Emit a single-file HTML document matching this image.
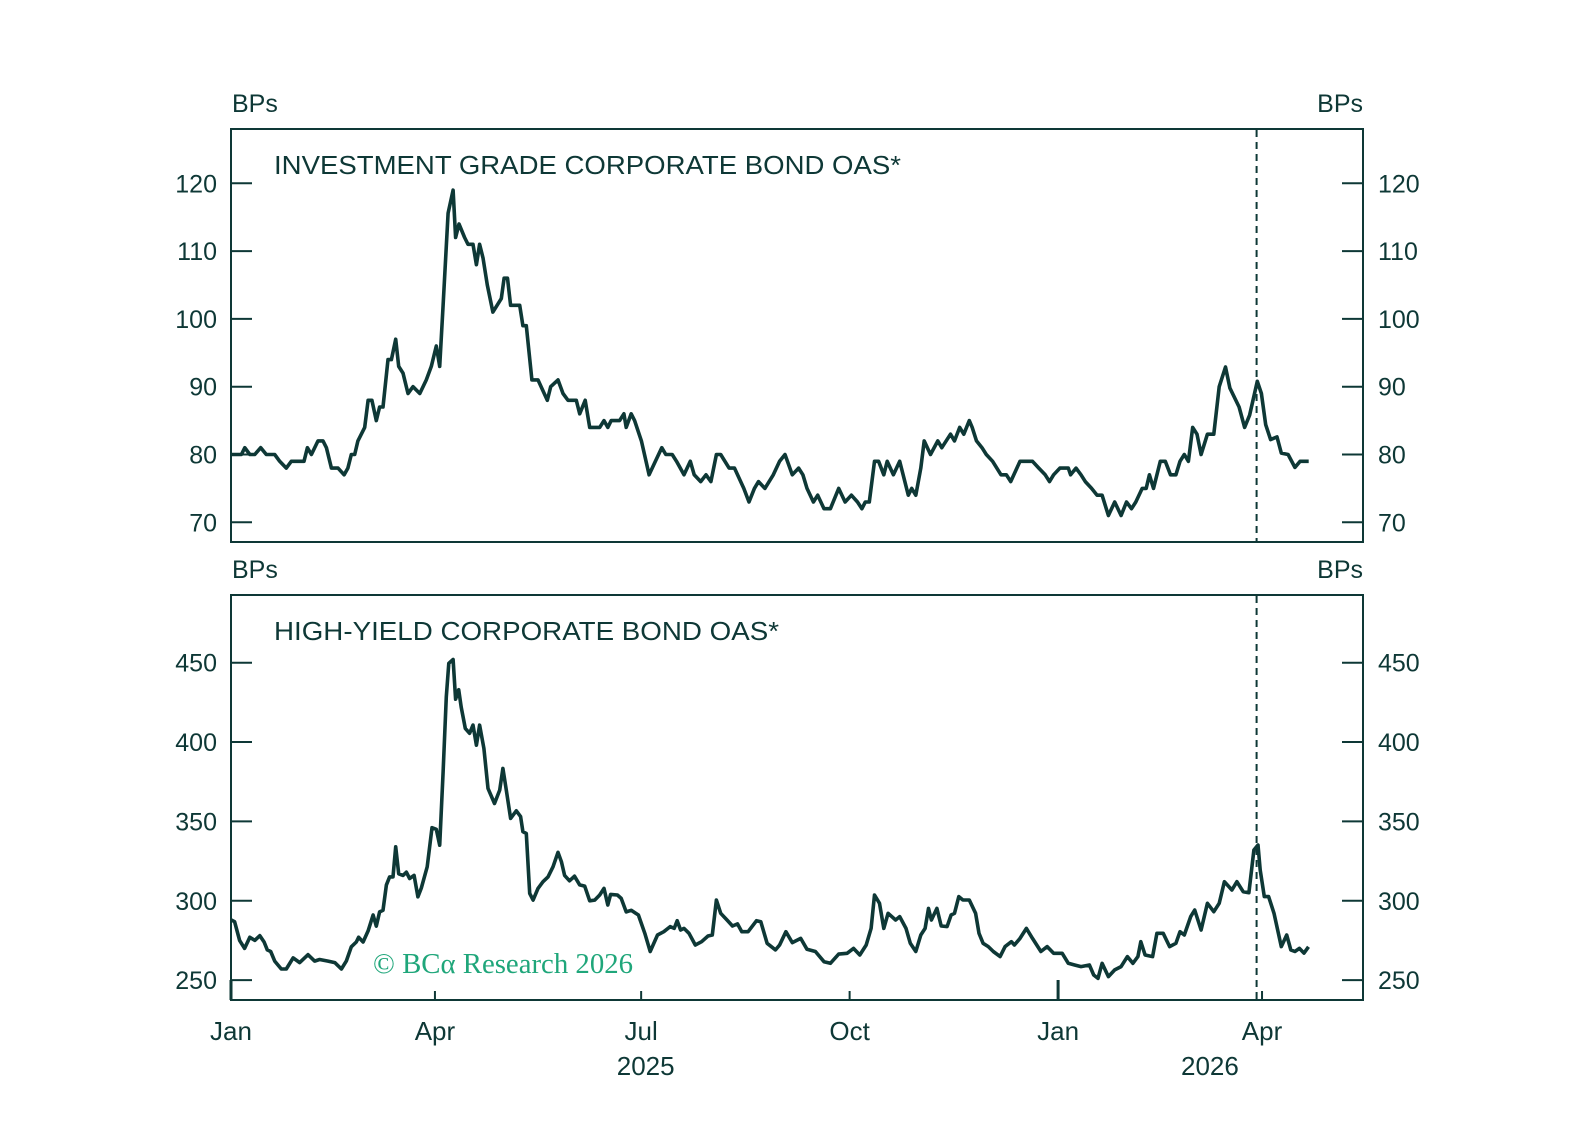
<!DOCTYPE html>
<html><head><meta charset="utf-8">
<style>
html,body{margin:0;padding:0;background:#fff;}
svg{display:block;font-family:"Liberation Sans",sans-serif;}
</style></head>
<body>
<svg id="chart" width="1595" height="1144" viewBox="0 0 1595 1144">
  <rect x="0" y="0" width="1595" height="1144" fill="#fff"/>
  <g id="top"></g>
  <g id="bot"></g>
  <g id="xaxis"></g>
  <text x="373" y="973" font-family="'Liberation Serif',serif" font-size="28" fill="#1fa67a" textLength="260" lengthAdjust="spacingAndGlyphs">© BCα Research 2026</text>
</svg>
<script>
// Days since 2025-01-01
const igDays = [0,0.9,4.6,6.1,8.3,10.5,13.1,15.6,19.3,21.5,24.4,26.6,32.2,33.7,35.5,38.4,40.6,42.1,44.3,47.2,49.9,51.6,53.1,54.6,56,59,60.5,62.2,64.1,65.6,67.1,69.3,70.8,72.7,74,75.9,78.1,80.3,83.3,86.2,88.4,90.6,92.1,93.6,95.8,98,99.1,100.6,103.1,104.6,106.8,108.3,109.7,111.2,113.1,115.6,119.3,120.5,122,123.4,127.4,128.8,130.3,132.8,135.5,139.6,141.1,144.3,146.5,148.7,150.2,152.4,153.9,156.3,158.3,162.7,164.6,166.3,167.8,171.5,173.4,174.4,176.6,178.1,181.1,184.5,187.3,190.1,191.9,194.7,196.6,199.9,202.7,204.4,207.3,209.6,211.8,214.2,216.1,219.8,222.2,226.3,228.6,231,232.8,235.6,239.3,242.1,244.5,247.7,250.5,252.4,254.2,257,258.9,261.7,264.5,268.2,271,273.8,276.5,278.4,279.9,281.7,284,285.8,288.1,289.6,292.3,295.1,298.9,300.4,302.2,304.4,305.9,308.7,311.9,313.7,317.5,319.3,321.6,323.4,325.8,327.1,329,331.4,333.3,336.1,339.8,342.2,344.1,348.2,353.7,356.5,359.3,361.2,363,365.8,369.5,370.5,372.9,375.1,377,379.8,382.2,384.4,387.2,390,392.8,395.2,397.4,399.3,402.1,403.9,405.3,407.1,410.1,412.3,414.6,417,418.8,420.7,422.5,424.4,426.3,428.1,430.9,433.7,436.1,438.9,440.8,444.9,447.3,449.5,452.9,454.7,456.6,458.8,461.6,463.5,466.5,469.5,471.8,475.6];
const igValues = [80,80,80,81,80,80,81,80,80,79,78,79,79,81,80,82,82,81,78,78,77,78,80,80,82,84,88,88,85,87,87,94,94,97,93,92,89,90,89,91,93,96,93,102,115.6,119,112,114,112,111,111,108,111,109,105,101,103,106,106,102,102,99,99,91,91,88,90,91,89,88,88,88,86,88,84,84,85,84,85,85,86,84,86,85,82,77,79,81,80,80,79,77,79,77,76,77,76,80,80,78,78,75,73,75,76,75,77,79,80,77,78,77,75,73,74,72,72,75,73,74,73,72,73,73,79,79,77,79,77,79,74,75,74,78,82,80,82,81,83,82,84,83,85,84,82,81,80,79,77,77,76,79,79,78,77,76,77,78,78,77,78,77,76,75,74,74,71,73,71,73,72,73,75,75,77,75,79,79,77,77,79,80,79,84,83,80,83,83,90,92.9,89.8,87,84,85.8,90.8,89,84.4,82.2,82.6,80.2,80,78.1,79,79];
const hyDays = [0,1.6,3.8,6,8.3,10.5,12.7,14.6,16,17.5,19.3,22.2,24.4,27.4,30.3,34,36.9,39.1,42.8,45.8,48.7,50.9,53.1,55.3,56.3,58.3,60.5,62.7,64.1,65.6,67.1,68.6,70,71.5,72.7,74,75.9,77.4,78.8,80.8,82.5,84,86.6,88.7,90.6,92.1,93.6,95,96.1,98,99.1,100.5,101.6,103.4,105.3,106.8,108.3,109.7,111.6,113.4,116.3,118.6,120,121.5,123.4,125.9,127.8,128.8,130.3,131.8,133.3,135.5,137.7,139.9,142.1,144.3,145.8,147.2,149.4,151.6,153.9,156.1,158.3,160.5,162.7,164.6,166.3,167.5,170.5,172.2,174.4,176.6,179.8,182.6,185,188.2,191,193.8,195.6,196.9,198.4,199.9,202.1,204.9,207.7,210.5,212.4,214.2,216.1,218.9,221.3,223.5,225.4,228.2,231.9,233.8,236.6,240.3,242.1,244.9,247.7,251.4,254.2,257.9,261.7,264.5,268.2,271.9,274.7,277.5,280.3,282.5,284,286.2,288.1,290,293.3,295.1,297.9,299.8,302.2,304.4,306.3,307.8,309.1,311.5,313.4,316,317.8,319.3,321.2,323,325.8,328.6,330.1,331.9,334.2,336.4,339.4,341.6,344.4,345.7,348.2,351,353.7,357.4,360.2,363,366.8,369.5,372.3,375.1,378.8,380.7,382.6,384.4,387.2,390,392.8,395.6,398,400.2,401.5,403.4,406.7,408.6,411.4,414.2,417,418.8,420.7,423.5,425.3,428.1,430.9,433.7,436.1,438.4,441.7,443.9,446.7,449.2,451.4,453.2,454.2,456,457.9,460.3,463.5,465.9,467.7,469.5,471.5,473.5,475.5];
const hyValues = [288,286.8,275,270,277,275,278,274,269,268,262,257,257,264,261,266,262,263,262,261,257,262,271,274,277,274,281,291,284,293,294,310,315,315,334,317,316,318,314,316,302.5,308,321.4,346,345,335,381,428.6,449.6,452,427,433,422,408.6,405.5,410.7,398,410.7,396,370.8,361.3,369.7,383.4,369.7,351.9,356.7,353,343.5,342.4,304.6,300.4,307.8,312,315,321.4,330.5,324.6,316,312.6,315.5,310,309.2,300,300.4,303.6,307.8,297.3,304,303.6,301.5,293,294,291,279.5,268,278.4,280.5,283.7,282.6,287.4,281.6,282.6,279.5,272.1,274.2,277.8,278.4,300.5,292.1,287.9,284.1,285.4,280.5,280.5,287.4,286.8,273.2,269,272.1,280.5,273.6,276.3,269.4,268,261.6,260.6,266.4,266.9,270,265.8,272.1,282.6,303.6,298.4,282.6,292.1,287.9,290,282.6,273.2,268,278.4,282.6,295.2,287.9,295.2,284.1,283.7,291,292.1,302.6,300.5,300.5,292.1,279.5,273.2,271.1,268,264.8,271.1,274.2,272.1,276.3,282.6,276.3,268,271.1,266.9,266.9,260.6,259.5,258.5,259.5,253.2,251.1,260.6,252.2,256.4,258.5,264.8,260.6,264.8,274.2,265.8,264.8,279.5,279.5,271.1,273.2,280.5,278.4,290,294.2,281.6,298.4,293.1,298.4,312,306.8,312,305.7,305.1,332,335.1,319.4,302.6,302.6,292.1,271.1,278.4,269,268,270,267,271];
const igTicks = [70,80,90,100,110,120];
const hyTicks = [250,300,350,400,450];
const monthLabels = ["Jan","Apr","Jul","Oct","Jan","Apr"];
const monthDays = [0,90,181,273,365,455];
const yearLabels = ["2025","2026"];
const yearDays = [183,432];
const markerDay = 452.6;

const NS = "http://www.w3.org/2000/svg";
const C = "#0e3836";
const L = 231, R = 1363;
const xS = d => L + d * 2.266;
function mk(tag, attrs, parent){const e=document.createElementNS(NS,tag);for(const k in attrs)e.setAttribute(k,attrs[k]);parent.appendChild(e);return e;}

function panel(g, top, bottom, yS, ticks, title, titleLen, days, vals, nm){
  const box = mk('rect',{x:L,y:top,width:R-L,height:bottom-top,fill:'none',stroke:C,'stroke-width':2},g);
  
  
  const bl = mk('text',{x:L+1,y:top-17,'font-size':25,fill:C},g); bl.textContent='BPs';
  
  
  const br = mk('text',{x:R,y:top-17,'font-size':25,fill:C,'text-anchor':'end'},g); br.textContent='BPs';
  
  
  const t = mk('text',{x:274,y:top+45,'font-size':26,fill:C,textLength:titleLen,lengthAdjust:'spacingAndGlyphs'},g); t.textContent=title;
  
  
  ticks.forEach(v=>{
    const y=yS(v);
    const a=mk('line',{x1:L,x2:L+21,y1:y,y2:y,stroke:C,'stroke-width':2},g);
    
    
    const b=mk('line',{x1:R-21,x2:R,y1:y,y2:y,stroke:C,'stroke-width':2},g);
    
    
    const tl=mk('text',{x:217,y:y+9,'font-size':25,fill:C,'text-anchor':'end'},g); tl.textContent=v;
    
    
    const tr=mk('text',{x:1378,y:y+9,'font-size':25,fill:C},g); tr.textContent=v;
    
    
  });
  const dl=mk('line',{x1:xS(markerDay),x2:xS(markerDay),y1:top+1,y2:bottom-1,stroke:C,'stroke-width':2,'stroke-dasharray':'7,5'},g);
  
  
  let d='';
  days.forEach((dd,i)=>{d+=(i?'L':'M')+xS(dd).toFixed(1)+','+yS(vals[i]).toFixed(1);});
  const p=mk('path',{d:d,fill:'none',stroke:C,'stroke-width':3.6,'stroke-linejoin':'round'},g);
  
  
}
const igY = v => 183.3 + (120 - v) * 6.78;
const hyY = v => 662.7 + (450 - v) * 1.587;
panel(document.getElementById('top'),129,542,igY,igTicks,'INVESTMENT GRADE CORPORATE BOND OAS*',627,igDays,igValues,'ig');
panel(document.getElementById('bot'),595,1000,hyY,hyTicks,'HIGH-YIELD CORPORATE BOND OAS*',505,hyDays,hyValues,'hy');

const xg=document.getElementById('xaxis');
monthDays.forEach((md,i)=>{
  const x=xS(md);
  const big = monthLabels[i]==='Jan';
  const tk=mk('line',{x1:x,x2:x,y1:big?980:991,y2:1000,stroke:C,'stroke-width':big?3:2},xg);
  
  
  const t=mk('text',{x:x,y:1040,'font-size':26,fill:C,'text-anchor':'middle'},xg); t.textContent=monthLabels[i];
  
  
});
yearDays.forEach((yd,i)=>{
  const t=mk('text',{x:xS(yd),y:1075,'font-size':26,fill:C,'text-anchor':'middle'},xg); t.textContent=yearLabels[i];
  
  
});
</script>
</body></html>
